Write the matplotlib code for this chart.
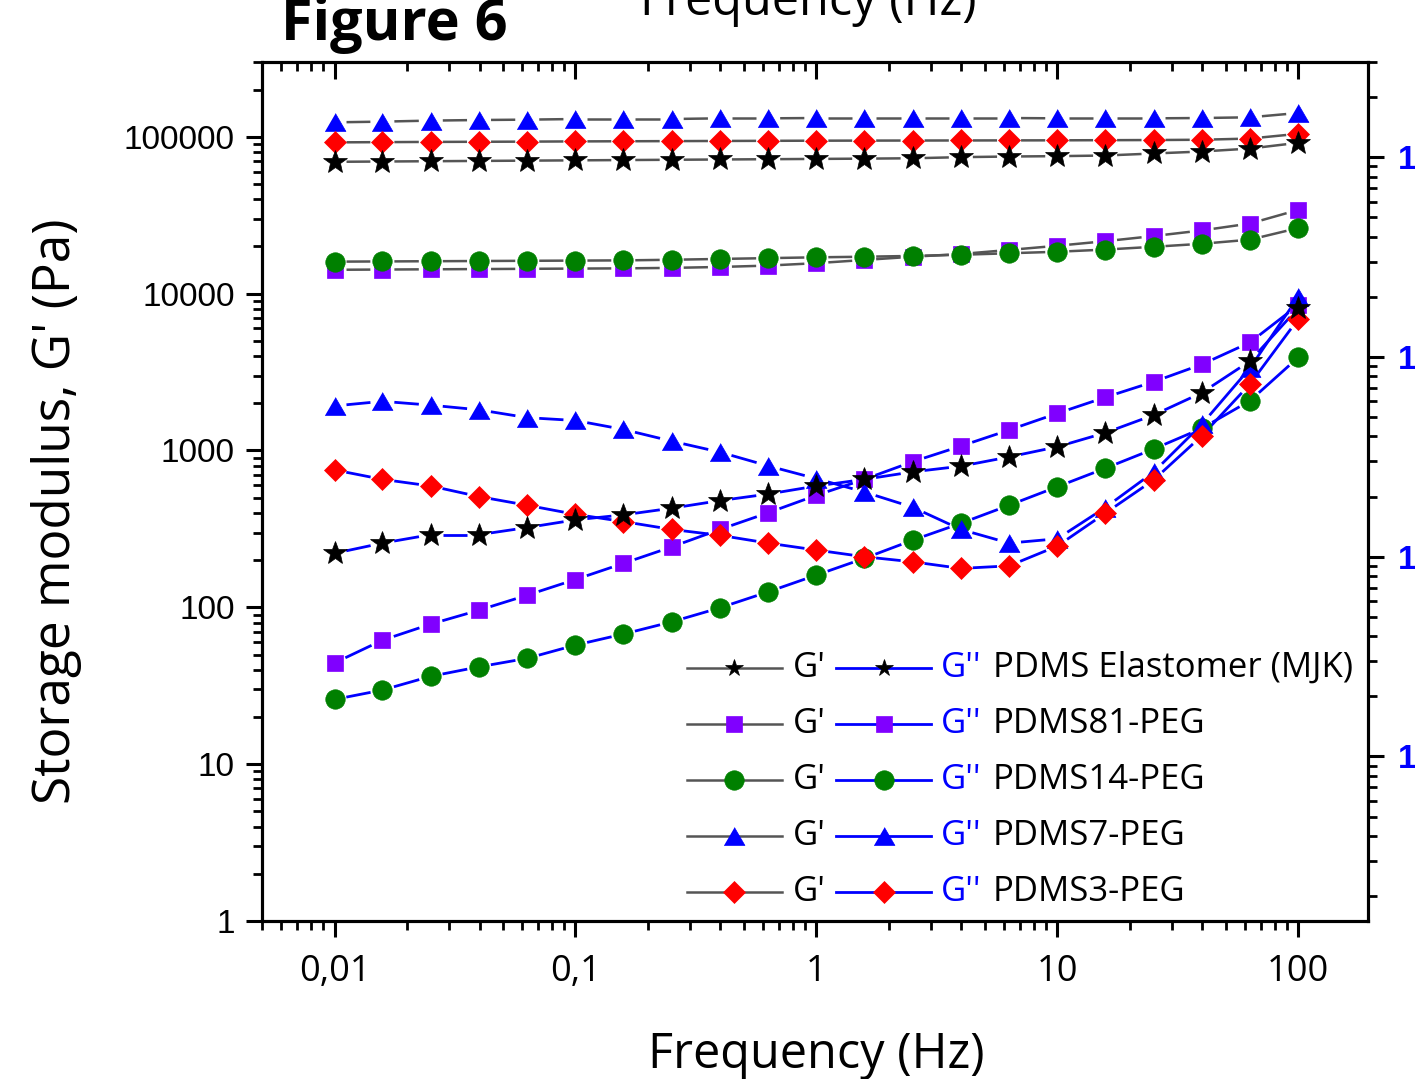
import numpy as np
import matplotlib
matplotlib.use("Agg")
import matplotlib.pyplot as plt
from matplotlib.ticker import LogLocator, NullFormatter, FixedLocator, FixedFormatter
from matplotlib.lines import Line2D

# frequency sweep (Hz), 5 points per decade
freq = [0.01, 0.0158, 0.0251, 0.0398, 0.0631, 0.1, 0.158, 0.251, 0.398, 0.631,
        1, 1.58, 2.51, 3.98, 6.31, 10, 15.8, 25.1, 39.8, 63.1, 100]

# storage modulus G' (Pa) - left axis
gp_elast = [69300, 69600, 69900, 70200, 70500, 70800, 71100, 71400, 71700, 72000,
            72300, 72600, 73000, 74200, 74900, 75300, 76000, 78300, 80600, 84200, 91600]
gp_81 = [14200, 14250, 14300, 14350, 14400, 14450, 14500, 14600, 14800, 15100,
         15650, 16400, 17200, 17900, 19000, 20200, 21600, 23300, 25300, 28000, 34200]
gp_14 = [16000, 16050, 16100, 16150, 16200, 16250, 16300, 16450, 16650, 16850,
         17050, 17200, 17400, 17700, 18100, 18500, 19100, 19900, 20800, 22100, 26200]
gp_7 = [123700, 125000, 126900, 128000, 128700, 129900, 129900, 129900, 131200, 131200,
        131800, 131800, 131800, 131800, 131800, 131200, 131200, 131200, 131800, 133200, 141900]
gp_3 = [92200, 92500, 92800, 93000, 93200, 93500, 93700, 93900, 94100, 94300,
        94500, 94600, 94700, 94800, 94900, 95000, 95200, 95400, 95800, 97500, 104500]

# loss modulus G'' (Pa) - right axis
gpp_elast = [104, 117, 129, 129, 140, 153, 162, 175, 191, 206,
             226, 244, 266, 284, 316, 355, 417, 512, 662, 954, 1758]
gpp_81 = [29.4, 38.2, 46.0, 54.0, 64.2, 76.9, 92.6, 112, 137, 166,
          203, 244, 299, 358, 431, 522, 628, 751, 918, 1183, 1819]
gpp_14 = [19.3, 21.5, 25.2, 28.1, 31.0, 36.1, 41.0, 47.2, 55.5, 66.7,
          80.9, 98.1, 121, 147, 181, 224, 277, 346, 439, 604, 995]
gpp_7 = [569, 600, 574, 544, 497, 481, 434, 379, 334, 285,
         246, 211, 177, 137, 117, 123, 176, 265, 460, 880, 1995]
gpp_3 = [272, 244, 226, 200, 181, 163, 150, 137, 128, 117,
         108, 100, 94.3, 87.4, 90.0, 113, 165, 242, 403, 732, 1548]

names = ["PDMS Elastomer (MJK)", "PDMS81-PEG", "PDMS14-PEG", "PDMS7-PEG", "PDMS3-PEG"]

left_ticks = [1, 10, 100, 1000, 10000, 100000]
left_labels = ["1", "10", "100", "1000", "10000", "100000"]
right_ticks = [10, 100, 1000, 10000]
right_labels = ["10", "100", "1000", "10000"]
x_ticks = [0.01, 0.1, 1, 10, 100]
x_labels = ["0,01", "0,1", "1", "10", "100"]

# wide, flat triangle
tri = [(-1, -0.86), (1, -0.86), (0, 0.86)]

# marker styles: marker, colour, size, legend size
styles = [("*", "black", 18.0, 13.0),
          ("s", "#8000FF", 12.2, 12.2),
          ("o", "#008000", 14.0, 14.0),
          (tri, "#0000FF", 15.0, 15.0),
          ("D", "#FF0000", 11.7, 11.7)]
gp_all = [gp_elast, gp_81, gp_14, gp_7, gp_3]
gpp_all = [gpp_elast, gpp_81, gpp_14, gpp_7, gpp_3]
zorders = [6, 2, 3, 4, 5]

gray = "#555555"
blue = "#0000FF"
sans = "Open Sans"


def gapped_line(a, xs, ys, cut, **kw):
    # connect neighbouring points, leaving a small gap around each marker
    pts = a.transData.transform(np.column_stack([xs, ys]))
    inv = a.transData.inverted()
    for p, q in zip(pts[:-1], pts[1:]):
        d = q - p
        L = np.hypot(*d)
        if L <= 2 * cut:
            continue
        u = d / L
        seg = inv.transform(np.array([p + u * cut, q - u * cut]))
        a.plot(seg[:, 0], seg[:, 1], solid_capstyle="butt", **kw)


fig = plt.figure(figsize=(14.15, 10.79), dpi=100)
ax = fig.add_axes([0.18516, 0.14643, 0.78163, 0.79611])
ax2 = ax.twinx()
axt = ax.twiny()

for a in (ax, ax2, axt):
    for s in a.spines.values():
        s.set_linewidth(2.2)

ax.set_xscale("log")
ax.set_yscale("log")
ax2.set_yscale("log")
axt.set_xscale("log")

ax.set_xlim(0.005, 195)
axt.set_xlim(0.005, 195)
ax.set_ylim(1, 3e5)
ax2.set_ylim(1.5, 3e4)
ax.set_autoscale_on(False)
ax2.set_autoscale_on(False)

for (m, c, ms, _), g1, g2, z in zip(styles, gp_all, gpp_all, zorders):
    gapped_line(ax, freq, g1, 12, color=gray, lw=1.8, zorder=1)
    ax.plot(freq, g1, ls="none", marker=m, ms=ms, mfc=c, mec=c, mew=0.5, zorder=z)
    gapped_line(ax2, freq, g2, 12, color=blue, lw=2.0, zorder=1)
    ax2.plot(freq, g2, ls="none", marker=m, ms=ms, mfc=c, mec=c, mew=0.5, zorder=z)

# bottom axis
ax.xaxis.set_major_locator(FixedLocator(x_ticks))
ax.xaxis.set_major_formatter(FixedFormatter(x_labels))
ax.xaxis.set_minor_locator(LogLocator(base=10, subs=np.arange(2, 10), numticks=100))
ax.xaxis.set_minor_formatter(NullFormatter())
# left axis
ax.yaxis.set_major_locator(FixedLocator(left_ticks))
ax.yaxis.set_major_formatter(FixedFormatter(left_labels))
ax.yaxis.set_minor_locator(LogLocator(base=10, subs=np.arange(2, 10), numticks=100))
ax.yaxis.set_minor_formatter(NullFormatter())
# right axis
ax2.yaxis.set_major_locator(FixedLocator(right_ticks))
ax2.yaxis.set_major_formatter(FixedFormatter(right_labels))
ax2.yaxis.set_minor_locator(LogLocator(base=10, subs=np.arange(2, 10), numticks=100))
ax2.yaxis.set_minor_formatter(NullFormatter())
# top axis
axt.xaxis.set_major_locator(FixedLocator(x_ticks))
axt.xaxis.set_minor_locator(LogLocator(base=10, subs=np.arange(2, 10), numticks=100))
axt.xaxis.set_minor_formatter(NullFormatter())

ax.tick_params(which="major", length=11.5, width=2.2)
ax.tick_params(which="minor", length=6.5, width=2.0)
ax.tick_params(axis="x", which="both", direction="out", top=False, pad=12)
ax.tick_params(axis="y", which="both", direction="out", right=False, pad=8)
ax2.tick_params(which="major", length=11.5, width=2.2)
ax2.tick_params(which="minor", length=6.5, width=2.0)
ax2.tick_params(axis="y", which="both", direction="out", pad=10, labelcolor=blue)
axt.tick_params(which="major", length=12, width=2.2)
axt.tick_params(which="minor", length=6.5, width=2.0)
axt.tick_params(axis="x", which="both", direction="in", labeltop=False, labelbottom=False)

for lab in ax.get_xticklabels():
    lab.set_fontfamily(sans)
    lab.set_fontsize(26)
for lab in ax.get_yticklabels():
    lab.set_fontfamily("Liberation Sans")
    lab.set_fontsize(24)
for lab in ax2.get_yticklabels():
    lab.set_fontfamily("Liberation Sans")
    lab.set_fontsize(24)
    lab.set_fontweight("bold")

# axis titles
fig.text(57 / 1415, 1 - 511 / 1079, "Storage modulus, G' (Pa)", rotation=90,
         ha="center", va="center", fontsize=37, family=sans)
fig.text(816 / 1415, 11 / 1079, "Frequency (Hz)", ha="center", va="baseline",
         fontsize=35, family=sans)
fig.text(808 / 1415, 1 - 15 / 1079, "Frequency (Hz)", ha="center", va="baseline",
         fontsize=35, family=sans)
fig.text(281 / 1415, 1 - 40 / 1079, "Figure 6", ha="left", va="baseline",
         fontsize=41.5, family=sans, weight="bold")

# two-column key: G' (grey line) and G'' (blue line) per sample
row_y = [0.2945, 0.2293, 0.1641, 0.0990, 0.0338]
for (m, c, _, lms), name, y in zip(styles, names, row_y):
    ax2.add_line(Line2D([0.3840, 0.4700], [y, y], transform=ax2.transAxes, color=gray,
                        lw=1.8, clip_on=False, zorder=10))
    ax2.add_line(Line2D([0.4270], [y], transform=ax2.transAxes, marker=m, ms=lms,
                        mfc=c, mec=c, mew=0.5, ls="none", clip_on=False, zorder=11))
    ax2.text(0.4801, y, "G'", transform=ax2.transAxes, va="center", ha="left",
             fontsize=25, family=sans, color="black")
    ax2.add_line(Line2D([0.5190, 0.6049], [y, y], transform=ax2.transAxes, color=blue,
                        lw=2.0, clip_on=False, zorder=10))
    ax2.add_line(Line2D([0.5620], [y], transform=ax2.transAxes, marker=m, ms=lms,
                        mfc=c, mec=c, mew=0.5, ls="none", clip_on=False, zorder=11))
    ax2.text(0.6135, y, "G''", transform=ax2.transAxes, va="center", ha="left",
             fontsize=25, family=sans, color=blue)
    ax2.text(0.6610, y, name, transform=ax2.transAxes, va="center", ha="left",
             fontsize=25, family=sans, color="black")

fig.savefig("out.png", dpi=100)
